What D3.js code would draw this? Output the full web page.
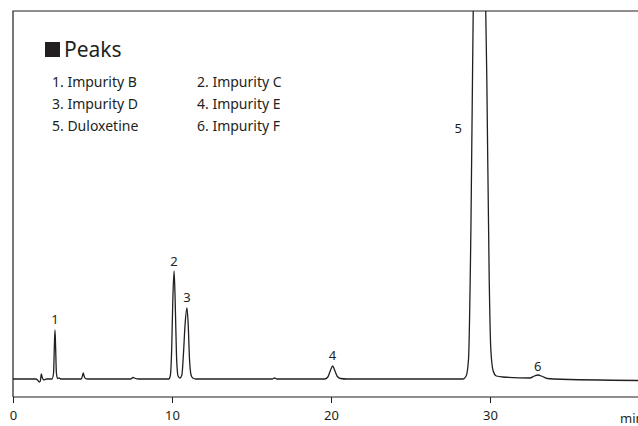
<!DOCTYPE html>
<html>
<head>
<meta charset="utf-8">
<script src="https://cdn.jsdelivr.net/npm/d3@7"></script>
<style>
  body { margin: 0; background: #fff; }
  text { font-family: "Noto Sans", "Open Sans", sans-serif; fill: #231f20; }
</style>
</head>
<body>
<svg id="chart" width="638" height="426"></svg>
<script>
// chromatogram trace: [time (min), signal]
const trace = [
  [0, 0], [1.4, 0], [1.55, -1], [1.65, -3], [1.72, -2], [1.78, 5], [1.85, 1], [1.95, -1], [2.1, 0],
  [2.45, 0], [2.55, 6], [2.6, 32], [2.64, 49], [2.68, 32], [2.73, 6], [2.8, 0.5], [2.9, 1], [3.0, 0],
  [4.3, 0], [4.38, 4], [4.42, 6], [4.47, 3], [4.55, 0.5], [4.7, 0],
  [7.4, 0], [7.55, 1.5], [7.7, 0.5], [7.9, 0],
  [9.8, 0], [9.9, 4], [9.98, 30], [10.05, 78], [10.13, 108], [10.2, 78], [10.28, 25], [10.38, 3],
  [10.5, 1], [10.62, 4], [10.72, 25], [10.82, 54], [10.94, 71], [11.02, 54], [11.1, 20], [11.2, 4],
  [11.3, 1], [11.5, 0],
  [16.3, 0], [16.45, 1], [16.6, 0],
  [19.6, 0], [19.8, 2], [19.95, 8], [20.1, 13], [20.25, 8], [20.4, 2.5], [20.6, 0.5], [21, 0],
  [28.3, 0], [28.5, 3], [28.65, 20], [28.8, 150], [29.0, 450], [29.3, 600], [29.6, 500], [29.8, 300],
  [29.95, 100], [30.05, 30], [30.2, 8], [30.4, 3], [30.8, 2],
  [32.5, 1], [32.8, 3], [33.0, 4], [33.3, 2.5], [33.6, 0.5], [34, 0], [39.4, -1.5]
];

// peak numbers and where they sit
const peakIds = ["1", "2", "3", "4", "5", "6"];
const peakTimes = [2.64, 10.13, 10.94, 20.1, 28.0, 33.0];
const peakLabelY = [55, 113, 77, 19, 246, 8];

const legendItems = [
  "1. Impurity B", "2. Impurity C",
  "3. Impurity D", "4. Impurity E",
  "5. Duloxetine", "6. Impurity F"
];
const xTicks = [0, 10, 20, 30];

const marginL = 13, marginT = 11, axisY = 397;

const x = d3.scaleLinear().domain([0, 10]).range([marginL, 172]);
const y = d3.scaleLinear().domain([-18, 368]).range([axisY, marginT]);

const svg = d3.select("#chart");

svg.append("clipPath").attr("id", "plot")
  .append("rect").attr("x", marginL).attr("y", marginT).attr("width", 700).attr("height", axisY - marginT);

// frame
svg.append("path")
  .attr("d", `M700,${marginT}H${marginL}V${axisY}`)
  .attr("fill", "none").attr("stroke", "#231f20").attr("stroke-width", 1.2);

// x axis
const axis = svg.append("g")
  .attr("transform", `translate(0,${axisY})`)
  .call(d3.axisBottom(x).tickValues(xTicks).tickSize(6).tickPadding(8));
axis.select(".domain").attr("stroke", "#231f20").attr("stroke-width", 1.2).attr("d", `M${marginL},0H700`);
axis.selectAll(".tick line").attr("stroke", "#231f20");
axis.selectAll("text").attr("font-size", 13).style("fill", "#231f20")
  .style("font-family", "'Noto Sans', sans-serif");

svg.append("text").attr("x", 620).attr("y", 423).attr("font-size", 13).text("min");

// trace
const line = d3.line()
  .x(d => x(d[0]))
  .y(d => y(d[1]))
  .curve(d3.curveMonotoneX);

svg.append("path")
  .datum(trace)
  .attr("clip-path", "url(#plot)")
  .attr("d", line)
  .attr("fill", "none")
  .attr("stroke", "#231f20")
  .attr("stroke-width", 1.3);

// peak labels
svg.selectAll(".peak")
  .data(peakIds)
  .join("text")
  .attr("class", "peak")
  .attr("x", (d, i) => x(peakTimes[i]))
  .attr("y", (d, i) => y(peakLabelY[i]))
  .attr("text-anchor", "middle")
  .attr("font-size", 13)
  .text(d => d);

// legend
svg.append("rect").attr("x", 45).attr("y", 42).attr("width", 15).attr("height", 15).attr("fill", "#231f20");
svg.append("text").attr("x", 64).attr("y", 57).attr("font-size", 21).text("Peaks");

svg.selectAll(".leg")
  .data(legendItems)
  .join("text")
  .attr("class", "leg")
  .attr("x", (d, i) => i % 2 ? 197 : 52)
  .attr("y", (d, i) => 87 + Math.floor(i / 2) * 22)
  .attr("font-size", 14)
  .text(d => d);
</script>
</body>
</html>
